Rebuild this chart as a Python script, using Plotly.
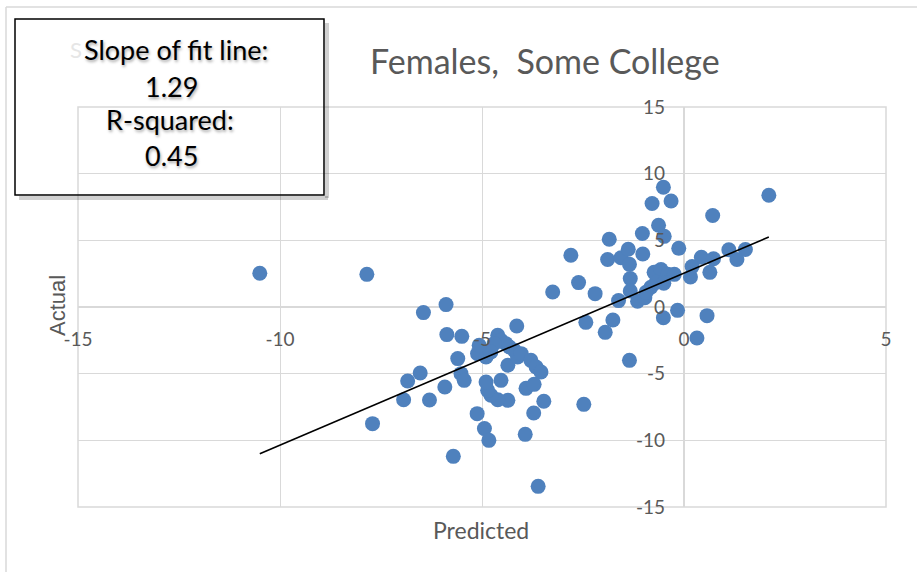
import plotly.graph_objects as go

# ---- data ----
predicted = [-10.50, -7.85, -6.45, -5.89, -5.87, -5.50, -6.53, -6.84, -5.92, -5.52,
             -5.44, -5.60, -6.94, -6.30, -7.71, -5.71, -5.12, -4.94, -4.83, -3.93,
             -3.61, -3.72, -3.47, -4.36, -4.61, -4.78, -4.86, -4.90, -4.53, -3.91,
             -3.71, -4.14, -4.61, -4.53, -4.41, -4.70, -4.32, -4.20, -5.02, -5.11,
             -4.90, -4.78, -4.36, -4.12, -4.03, -3.79, -3.66, -3.54, -5.07, -3.25,
             -2.80, -2.61, -2.20, -2.43, -1.95, -1.76, -1.62, -1.89, -1.85, -1.56,
             -1.38, -1.35, -1.33, -1.33, -1.15, -0.97, -1.02, -1.03, -1.35, -0.51,
             -0.16, 0.32, 0.57, -0.79, -0.51, -0.32, -0.63, -0.49, -0.13, 0.71,
             2.10, 1.11, 1.52, 1.31, 0.43, 0.73, 0.64, 0.20, 0.16, -0.74,
             -0.57, -0.40, -0.24, -0.69, -0.50, -0.82, -0.94, -2.48]
actual = [2.53, 2.45, -0.42, 0.18, -2.07, -2.20, -4.95, -5.55, -6.00, -5.00,
          -5.50, -3.87, -6.96, -6.98, -8.75, -11.20, -8.00, -9.12, -10.00, -9.55,
          -13.45, -7.95, -7.07, -7.00, -6.96, -6.62, -6.25, -5.63, -5.50, -6.10,
          -5.80, -1.43, -2.12, -2.50, -2.75, -2.75, -3.00, -3.25, -3.25, -3.50,
          -3.75, -3.38, -4.37, -3.75, -3.50, -4.00, -4.50, -4.88, -2.87, 1.13,
          3.88, 1.83, 1.00, -1.15, -1.90, -0.98, 0.48, 3.56, 5.08, 3.69,
          4.33, 3.20, 2.13, 1.20, 0.43, 0.69, 3.98, 5.51, -4.00, -0.81,
          -0.25, -2.33, -0.65, 7.76, 8.98, 7.95, 6.13, 5.30, 4.40, 6.86,
          8.38, 4.29, 4.31, 3.56, 3.73, 3.62, 2.60, 3.03, 2.25, 2.60,
          2.81, 2.45, 2.45, 1.85, 1.78, 1.48, 1.10, -7.30]

fit_slope = 1.29
fit_intercept = 2.54
r_squared = 0.45

x_ticks = [-15, -10, -5, 0, 5]
y_ticks = [-15, -10, -5, 0, 5, 10, 15]

title_text = "Females,  Some College"
x_title = "Predicted"
y_title = "Actual"

# ---- figure ----
W, H = 917, 572
ML, MR, MT, MB = 78, 31, 107, 65
PW, PH = W - ML - MR, H - MT - MB

def px(x):
    return (x - ML) / PW

def py(y):
    return (H - MB - y) / PH

GRAY_TXT = "#595959"
GRID = "#d9d9d9"
BLUE = "#4F81BD"
FONT = "Lato, 'Open Sans', sans-serif"

fit_x = [min(predicted), max(predicted)]
fit_y = [fit_slope * v + fit_intercept for v in fit_x]

fig = go.Figure()
fig.add_trace(go.Scatter(x=predicted, y=actual, mode="markers",
                         marker=dict(size=15, color=BLUE, line=dict(width=0)),
                         showlegend=False, hoverinfo="x+y"))
fig.add_trace(go.Scatter(x=fit_x, y=fit_y, mode="lines",
                         line=dict(color="black", width=1.6),
                         showlegend=False, hoverinfo="skip"))

tick_font = dict(family=FONT, size=19, color=GRAY_TXT)

fig.update_layout(
    width=W, height=H,
    margin=dict(l=ML, r=MR, t=MT, b=MB),
    paper_bgcolor="white", plot_bgcolor="white",
    xaxis=dict(range=[-15, 5], tickvals=x_ticks, ticktext=[str(v) for v in x_ticks],
               showgrid=True, gridcolor=GRID, gridwidth=1,
               zeroline=True, zerolinecolor=GRID, zerolinewidth=1.5,
               showline=False, ticks="", anchor="free", position=0.5,
               ticklabelstandoff=19, tickfont=tick_font, fixedrange=True),
    yaxis=dict(range=[-15, 15], tickvals=y_ticks, ticktext=[str(v) for v in y_ticks],
               showgrid=True, gridcolor=GRID, gridwidth=1,
               zeroline=True, zerolinecolor=GRID, zerolinewidth=1.5,
               showline=False, ticks="", anchor="free", position=0.75,
               ticklabelstandoff=19, tickfont=tick_font, fixedrange=True),
)

shapes = []
# plot-area frame
shapes.append(dict(type="rect", xref="paper", yref="paper", x0=0, x1=1, y0=0, y1=1,
                   line=dict(color=GRID, width=1.5), fillcolor="rgba(0,0,0,0)", layer="below"))
# outer chart border (top and left)
shapes.append(dict(type="line", xref="paper", yref="paper", x0=px(6), x1=px(W + 5),
                   y0=py(7), y1=py(7), line=dict(color=GRID, width=1.5)))
shapes.append(dict(type="line", xref="paper", yref="paper", x0=px(6), x1=px(6),
                   y0=py(7), y1=py(H + 5), line=dict(color=GRID, width=1.5)))
# text box shadow
shapes.append(dict(type="line", xref="paper", yref="paper", x0=px(19), x1=px(328),
                   y0=py(198), y1=py(198), line=dict(color="rgba(0,0,0,0.18)", width=4)))
shapes.append(dict(type="line", xref="paper", yref="paper", x0=px(327), x1=px(327),
                   y0=py(23), y1=py(198), line=dict(color="rgba(0,0,0,0.18)", width=4)))
# text box
shapes.append(dict(type="rect", xref="paper", yref="paper", x0=px(15), x1=px(324),
                   y0=py(19), y1=py(195), line=dict(color="black", width=1.5),
                   fillcolor="rgba(0,0,0,0)"))
fig.update_layout(shapes=shapes)

box_font = dict(family=FONT, size=27, color="black",
                shadow="1px 2px 3px rgba(0,0,0,0.35)")
ann = []
ann.append(dict(text="S", x=px(84), y=py(50), xref="paper", yref="paper", showarrow=False,
                xanchor="right", yanchor="middle",
                font=dict(family=FONT, size=22, color="#e6e6e6")))
for txt, xx, yy in [("Slope of fit line:", 176, 50), (f"{fit_slope:.2f}", 171, 86),
                    ("R-squared:", 170, 120), (f"{r_squared:.2f}", 171, 155)]:
    ann.append(dict(text=txt, x=px(xx), y=py(yy), xref="paper", yref="paper",
                    showarrow=False, font=box_font, xanchor="center", yanchor="middle"))
ann.append(dict(text=title_text, x=px(545), y=py(60), xref="paper", yref="paper",
                showarrow=False, xanchor="center", yanchor="middle",
                font=dict(family=FONT, size=34, color=GRAY_TXT)))
ann.append(dict(text=x_title, x=px(481), y=py(530), xref="paper", yref="paper",
                showarrow=False, xanchor="center", yanchor="middle",
                font=dict(family=FONT, size=23, color=GRAY_TXT)))
ann.append(dict(text=y_title, x=px(57), y=py(306), xref="paper", yref="paper",
                showarrow=False, xanchor="center", yanchor="middle", textangle=-90,
                font=dict(family="'Liberation Sans', Arial, sans-serif", size=22, color=GRAY_TXT)))
fig.update_layout(annotations=ann)

fig.write_html("out.html", config={"displayModeBar": False},
               post_script="document.body.style.margin='0';document.body.style.padding='0';")
